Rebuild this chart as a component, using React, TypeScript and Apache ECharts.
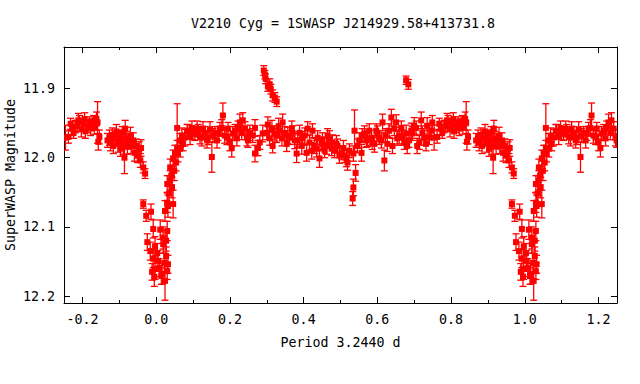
import React, { useEffect, useRef } from "react";
import * as echarts from "echarts";

const TITLE = "V2210 Cyg = 1SWASP J214929.58+413731.8";
const X_NAME = "Period 3.2440 d";
const Y_NAME = "SuperWASP Magnitude";

const X_MAJOR = [-0.2, 0.0, 0.2, 0.4, 0.6, 0.8, 1.0, 1.2];
const X_MINOR = [-0.1, 0.1, 0.3, 0.5, 0.7, 0.9, 1.1];
const Y_MAJOR = [11.9, 12.0, 12.1, 12.2];

// [phase, magnitude, error]
const quadratureB: number[][] = [
  [0.754, 11.971, 0.018], [0.762, 11.970, 0.009], [0.768, 11.951, 0.008], [0.772, 11.958, 0.010],
  [0.776, 11.964, 0.008], [0.781, 11.955, 0.009], [0.786, 11.954, 0.008], [0.789, 11.946, 0.010],
  [0.792, 11.948, 0.009], [0.797, 11.959, 0.011], [0.803, 11.952, 0.008], [0.806, 11.944, 0.009],
  [0.808, 11.962, 0.010], [0.814, 11.955, 0.009], [0.819, 11.949, 0.008], [0.822, 11.958, 0.010],
  [0.824, 11.952, 0.008], [0.830, 11.948, 0.009], [0.832, 11.957, 0.009], [0.835, 11.951, 0.008],
  [0.838, 11.944, 0.010], [0.841, 11.949, 0.030], [0.843, 11.977, 0.012], [0.846, 11.970, 0.010],
];

const preIngress: number[][] = [
  [0.868, 11.975, 0.010], [0.873, 11.971, 0.011], [0.876, 11.978, 0.012], [0.881, 11.967, 0.010],
  [0.884, 11.983, 0.011], [0.889, 11.972, 0.009], [0.892, 11.962, 0.010], [0.897, 11.980, 0.012],
  [0.900, 11.970, 0.010], [0.903, 11.987, 0.011], [0.905, 11.975, 0.010], [0.908, 11.964, 0.009],
  [0.911, 11.983, 0.012], [0.914, 12.000, 0.023], [0.916, 11.958, 0.012], [0.919, 11.972, 0.010],
  [0.922, 11.984, 0.011], [0.924, 11.975, 0.010], [0.930, 11.968, 0.012], [0.932, 11.984, 0.010],
  [0.938, 11.975, 0.011], [0.941, 11.993, 0.012], [0.946, 11.983, 0.010], [0.949, 11.997, 0.010],
  [0.954, 11.988, 0.011], [0.957, 12.004, 0.010], [0.959, 11.986, 0.012], [0.965, 12.014, 0.008],
  [0.970, 12.023, 0.007],
];

const primaryEclipse: number[][] = [
  [0.965, 12.067, 0.006], [0.973, 12.084, 0.008], [0.986, 12.078, 0.011], [0.976, 12.122, 0.012],
  [0.984, 12.135, 0.013], [0.992, 12.103, 0.013], [0.989, 12.165, 0.012], [0.995, 12.172, 0.014],
  [0.997, 12.161, 0.015], [0.992, 12.146, 0.013], [0.997, 12.128, 0.014],
  [0.003, 12.138, 0.014], [0.005, 12.149, 0.015], [0.008, 12.159, 0.013], [0.011, 12.104, 0.014],
  [0.014, 12.171, 0.012], [0.016, 12.168, 0.015], [0.019, 12.116, 0.016], [0.019, 12.125, 0.013],
  [0.022, 12.152, 0.014], [0.024, 12.178, 0.028], [0.027, 12.120, 0.015], [0.027, 12.142, 0.013],
  [0.030, 12.164, 0.012], [0.030, 12.106, 0.014], [0.032, 12.154, 0.013], [0.024, 12.077, 0.015],
  [0.030, 12.065, 0.014], [0.032, 12.070, 0.016], [0.035, 12.052, 0.013], [0.030, 12.038, 0.012],
  [0.038, 12.033, 0.014], [0.043, 12.043, 0.015], [0.046, 12.067, 0.020], [0.038, 12.014, 0.012],
  [0.041, 12.026, 0.013], [0.046, 12.001, 0.012], [0.049, 12.019, 0.014], [0.051, 11.993, 0.011],
  [0.054, 12.007, 0.012], [0.057, 11.986, 0.011], [0.059, 11.994, 0.012],
];

const egressPlateau: number[][] = [
  [0.057, 11.957, 0.035], [0.065, 11.987, 0.012], [0.065, 11.975, 0.010], [0.070, 11.968, 0.011],
  [0.073, 11.980, 0.010], [0.078, 11.971, 0.012], [0.084, 11.962, 0.010], [0.086, 11.961, 0.009],
  [0.092, 11.970, 0.011], [0.097, 11.957, 0.010], [0.100, 11.965, 0.009], [0.105, 11.965, 0.010],
  [0.111, 11.958, 0.011], [0.114, 11.961, 0.009], [0.119, 11.970, 0.010], [0.124, 11.971, 0.012],
  [0.127, 11.958, 0.010], [0.132, 11.964, 0.009], [0.138, 11.975, 0.011], [0.141, 11.971, 0.010],
  [0.146, 11.959, 0.011], [0.151, 11.999, 0.022], [0.154, 11.968, 0.010], [0.159, 11.964, 0.009],
  [0.165, 11.975, 0.011], [0.168, 11.965, 0.010], [0.173, 11.958, 0.009], [0.178, 11.957, 0.012],
  [0.181, 11.939, 0.018], [0.186, 11.968, 0.011], [0.192, 11.971, 0.010], [0.195, 11.958, 0.009],
  [0.200, 11.978, 0.012], [0.205, 11.986, 0.013], [0.208, 11.965, 0.010], [0.214, 11.961, 0.009],
  [0.219, 11.972, 0.011], [0.222, 11.957, 0.010], [0.227, 11.949, 0.012], [0.232, 11.964, 0.010],
  [0.235, 11.946, 0.011], [0.241, 11.958, 0.010], [0.246, 11.971, 0.012], [0.249, 11.975, 0.010],
];

const brightPoints: number[][] = [
  [0.292, 11.874, 0.007], [0.295, 11.880, 0.006], [0.297, 11.886, 0.007], [0.303, 11.897, 0.007],
  [0.308, 11.894, 0.008], [0.311, 11.901, 0.007], [0.316, 11.910, 0.008], [0.322, 11.913, 0.007],
  [0.327, 11.919, 0.007], [0.678, 11.888, 0.006], [0.684, 11.894, 0.007],
];

const quadratureA: number[][] = [
  [0.254, 11.964, 0.011], [0.262, 11.968, 0.010], [0.268, 11.957, 0.012], [0.268, 11.994, 0.012],
  [0.276, 11.986, 0.011], [0.281, 11.978, 0.010], [0.289, 11.965, 0.012], [0.300, 11.964, 0.010],
  [0.303, 11.952, 0.011], [0.308, 11.972, 0.010], [0.314, 11.958, 0.012], [0.316, 11.983, 0.010],
  [0.322, 11.965, 0.011], [0.327, 11.968, 0.010], [0.332, 11.955, 0.012], [0.335, 11.961, 0.010],
  [0.341, 11.972, 0.011], [0.343, 11.949, 0.012], [0.349, 11.965, 0.010], [0.354, 11.980, 0.011],
  [0.357, 11.968, 0.012], [0.362, 11.971, 0.010], [0.368, 11.958, 0.011], [0.370, 11.964, 0.010],
  [0.376, 11.975, 0.012], [0.381, 11.994, 0.013], [0.384, 11.975, 0.010], [0.389, 11.964, 0.011],
  [0.395, 11.983, 0.012], [0.397, 11.972, 0.010], [0.403, 11.968, 0.011], [0.408, 11.993, 0.012],
  [0.411, 11.958, 0.010], [0.416, 11.978, 0.011], [0.422, 11.990, 0.012], [0.424, 11.961, 0.010],
  [0.430, 11.983, 0.011], [0.435, 11.987, 0.012], [0.438, 11.971, 0.010], [0.443, 12.001, 0.013],
  [0.449, 11.980, 0.010], [0.451, 11.975, 0.011], [0.457, 11.990, 0.010], [0.462, 11.983, 0.012],
  [0.465, 11.968, 0.010], [0.470, 11.972, 0.011], [0.476, 11.987, 0.010], [0.478, 11.978, 0.011],
  [0.484, 11.990, 0.010], [0.489, 11.980, 0.012], [0.492, 11.983, 0.010], [0.497, 11.997, 0.011],
];

const secondaryRegion: number[][] = [
  [0.503, 11.993, 0.010], [0.508, 11.986, 0.011], [0.511, 11.997, 0.010], [0.516, 12.001, 0.012],
  [0.519, 12.007, 0.011], [0.524, 11.990, 0.010], [0.535, 12.043, 0.012], [0.533, 12.059, 0.010],
  [0.538, 11.961, 0.030], [0.541, 12.022, 0.012], [0.535, 11.994, 0.011], [0.546, 11.983, 0.010],
  [0.551, 11.975, 0.011], [0.557, 11.993, 0.012], [0.559, 11.968, 0.010], [0.565, 11.965, 0.011],
  [0.570, 11.975, 0.010], [0.573, 11.972, 0.012], [0.578, 11.961, 0.010], [0.584, 11.971, 0.011],
  [0.586, 11.978, 0.010], [0.592, 11.980, 0.012], [0.597, 11.961, 0.010], [0.600, 11.965, 0.011],
  [0.605, 11.971, 0.010], [0.611, 11.975, 0.011], [0.614, 11.949, 0.012], [0.619, 12.004, 0.015],
  [0.622, 11.968, 0.010], [0.627, 11.980, 0.011], [0.632, 11.961, 0.010], [0.638, 11.942, 0.012],
  [0.641, 11.983, 0.011], [0.646, 11.958, 0.010], [0.651, 11.949, 0.011], [0.654, 11.972, 0.010],
  [0.659, 11.968, 0.012], [0.665, 11.957, 0.010], [0.668, 11.971, 0.011], [0.673, 11.978, 0.010],
  [0.678, 11.965, 0.012], [0.681, 11.983, 0.011], [0.686, 11.975, 0.010], [0.692, 11.961, 0.011],
  [0.695, 11.965, 0.010], [0.700, 11.954, 0.012], [0.705, 11.957, 0.010], [0.708, 11.983, 0.011],
  [0.714, 11.978, 0.010], [0.719, 11.946, 0.012], [0.722, 11.964, 0.010], [0.727, 11.971, 0.011],
  [0.732, 11.980, 0.010], [0.735, 11.954, 0.012], [0.741, 11.971, 0.010], [0.746, 11.961, 0.011],
  [0.749, 11.949, 0.010],
];

const FONT = '"DejaVu Sans Mono", monospace';
const RED = "#ff0000";

function buildPoints(): number[][] {
  const base = [
    ...quadratureB, ...preIngress, ...primaryEclipse, ...egressPlateau,
    ...brightPoints, ...quadratureA, ...secondaryRegion,
  ];
  const out: number[][] = [];
  for (const [p, m, e] of base) {
    out.push([p, m, e]);
    if (p >= 0.75) out.push([p - 1, m, e]);
    if (p <= 0.25) out.push([p + 1, m, e]);
  }
  return out;
}

export default function App() {
  const ref = useRef<HTMLDivElement>(null);
  useEffect(() => {
    if (!ref.current) return;
    const chart = echarts.init(ref.current, null, { renderer: "svg" });
    const axisText = { fontFamily: FONT, fontSize: 13.3, color: "#000" };
    const line = { show: true, onZero: false, lineStyle: { color: "#000", width: 1 } };
    const xCommon = { type: "value", min: -0.25, max: 1.25, splitLine: { show: false } };
    const yCommon = { type: "value", min: 11.84, max: 12.21, inverse: true, splitLine: { show: false } };
    chart.setOption({
      animation: false,
      title: {
        text: TITLE,
        left: 338,
        top: 12,
        textAlign: "center",
        textStyle: { fontFamily: FONT, fontSize: 13.3, fontWeight: "normal", color: "#000" },
      },
      graphic: [
        {
          type: "text",
          x: 10,
          y: 175,
          rotation: Math.PI / 2,
          style: {
            text: Y_NAME,
            fontFamily: FONT,
            fontSize: 13.3,
            fill: "#000",
            textAlign: "center",
            textVerticalAlign: "middle",
          },
        },
      ],
      grid: { left: 64, right: 23, top: 47, bottom: 81, containLabel: false, outerBoundsMode: "none" },
      xAxis: [
        {
          ...xCommon, position: "bottom", axisLine: line,
          axisTick: { show: true, inside: true, length: 6, customValues: X_MAJOR, lineStyle: { color: "#000" } },
          axisLabel: { show: true, customValues: X_MAJOR, margin: 10, formatter: (v: number) => v.toFixed(1), ...axisText },
          name: X_NAME, nameLocation: "middle", nameGap: 33, nameTextStyle: axisText,
        },
        {
          ...xCommon, position: "bottom", axisLine: { show: false },
          axisTick: { show: true, inside: true, length: 3, customValues: X_MINOR, lineStyle: { color: "#000" } },
          axisLabel: { show: false },
        },
        {
          ...xCommon, position: "top", axisLine: line,
          axisTick: { show: true, inside: true, length: 6, customValues: X_MAJOR, lineStyle: { color: "#000" } },
          axisLabel: { show: false },
        },
        {
          ...xCommon, position: "top", axisLine: { show: false },
          axisTick: { show: true, inside: true, length: 3, customValues: X_MINOR, lineStyle: { color: "#000" } },
          axisLabel: { show: false },
        },
      ],
      yAxis: [
        {
          ...yCommon, position: "left", axisLine: line,
          axisTick: { show: true, inside: true, length: 6, customValues: Y_MAJOR, lineStyle: { color: "#000" } },
          axisLabel: { show: true, customValues: Y_MAJOR, margin: 9, formatter: (v: number) => v.toFixed(1), ...axisText },
        },
        {
          ...yCommon, position: "right", axisLine: line,
          axisTick: { show: true, inside: true, length: 6, customValues: Y_MAJOR, lineStyle: { color: "#000" } },
          axisLabel: { show: false },
        },
      ],
      series: [
        {
          type: "custom",
          xAxisIndex: 0,
          yAxisIndex: 0,
          clip: true,
          data: buildPoints(),
          encode: { x: 0, y: 1 },
          renderItem: (_params: any, api: any) => {
            const x = api.value(0);
            const y = api.value(1);
            const e = api.value(2);
            const c = api.coord([x, y]);
            const t = api.coord([x, y - e]);
            const b = api.coord([x, y + e]);
            const cap = 3.5;
            const st = { stroke: RED, lineWidth: 1.3 };
            return {
              type: "group",
              children: [
                { type: "line", shape: { x1: c[0], y1: t[1], x2: c[0], y2: b[1] }, style: st },
                { type: "line", shape: { x1: c[0] - cap, y1: t[1], x2: c[0] + cap, y2: t[1] }, style: st },
                { type: "line", shape: { x1: c[0] - cap, y1: b[1], x2: c[0] + cap, y2: b[1] }, style: st },
                { type: "rect", shape: { x: c[0] - 3, y: c[1] - 3, width: 6, height: 6 }, style: { fill: RED } },
              ],
            };
          },
        },
      ],
    });
    return () => chart.dispose();
  }, []);
  return (
    <div
      ref={ref}
      style={{ width: 640, height: 384, position: "absolute", left: 0, top: 0, background: "#fff" }}
    />
  );
}
